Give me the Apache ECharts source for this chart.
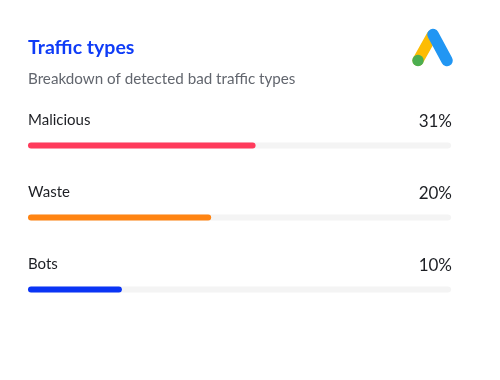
<!DOCTYPE html>
<html><head><meta charset="utf-8">
<style>html,body{margin:0;padding:0;background:#fff}#c{width:500px;height:380px}</style>
<script src="https://cdn.jsdelivr.net/npm/echarts@6/dist/echarts.min.js"></script>
</head><body><div id="c"></div>
<script>
const categories = ['Malicious', 'Waste', 'Bots'];
const percentLabels = ['31%', '20%', '10%'];
const barLengths = [53.8, 43.3, 22.2];
const trackValues = [100, 100, 100];
const barColors = ['#ff3b5c', '#ff8412', '#0a34f5'];
const FONT = 'Lato';
const chart = echarts.init(document.getElementById('c'), null, {renderer: 'canvas'});
chart.setOption({
  animation: false,
  backgroundColor: '#ffffff',
  title: [
    {text: 'Traffic types', left: 28, top: 38, padding: 0,
     textStyle: {fontFamily: FONT, fontSize: 19.5, fontWeight: 'bold', color: '#0f3cf7'}},
    {text: 'Breakdown of detected bad traffic types', left: 28, top: 72, padding: 0,
     textStyle: {fontFamily: FONT, fontSize: 15.2, fontWeight: 'normal', color: '#62666e'}}
  ],
  grid: {left: 28, right: 49, top: 109.5, height: 216},
  xAxis: {type: 'value', min: 0, max: 100, show: false},
  yAxis: {type: 'category', inverse: true, data: categories, show: false},
  series: [
    {type: 'bar', data: trackValues, barWidth: 6, barGap: '-100%', silent: true,
     itemStyle: {color: '#f4f4f4', borderRadius: 3},
     label: {show: true, position: 'insideLeft', distance: 0, offset: [0, -25.5],
       formatter: p => categories[p.dataIndex],
       fontFamily: FONT, fontSize: 15, color: '#1d1f24'}},
    {type: 'bar', data: barLengths.map((v, i) => ({value: v, itemStyle: {color: barColors[i]}})),
     barWidth: 6, barGap: '-100%', silent: true,
     itemStyle: {borderRadius: 3}},
    {type: 'bar', data: trackValues, barWidth: 6, barGap: '-100%', silent: true,
     itemStyle: {color: 'transparent'},
     label: {show: true, position: 'insideRight', distance: 0, offset: [1, -23.5],
       formatter: p => percentLabels[p.dataIndex],
       fontFamily: FONT, fontSize: 17, color: '#1d1f24'}}
  ],
  graphic: [
    {type: 'line', shape: {x1: 418, y1: 60.5, x2: 432, y2: 35.5},
     style: {stroke: '#fdbc04', lineWidth: 11, lineCap: 'round'}},
    {type: 'circle', shape: {cx: 418, cy: 60.5, r: 5.7}, style: {fill: '#4cae50'}},
    {type: 'line', shape: {x1: 433, y1: 34.5, x2: 447, y2: 60.5},
     style: {stroke: '#2196f3', lineWidth: 11.5, lineCap: 'round'}}
  ]
});
</script></body></html>
